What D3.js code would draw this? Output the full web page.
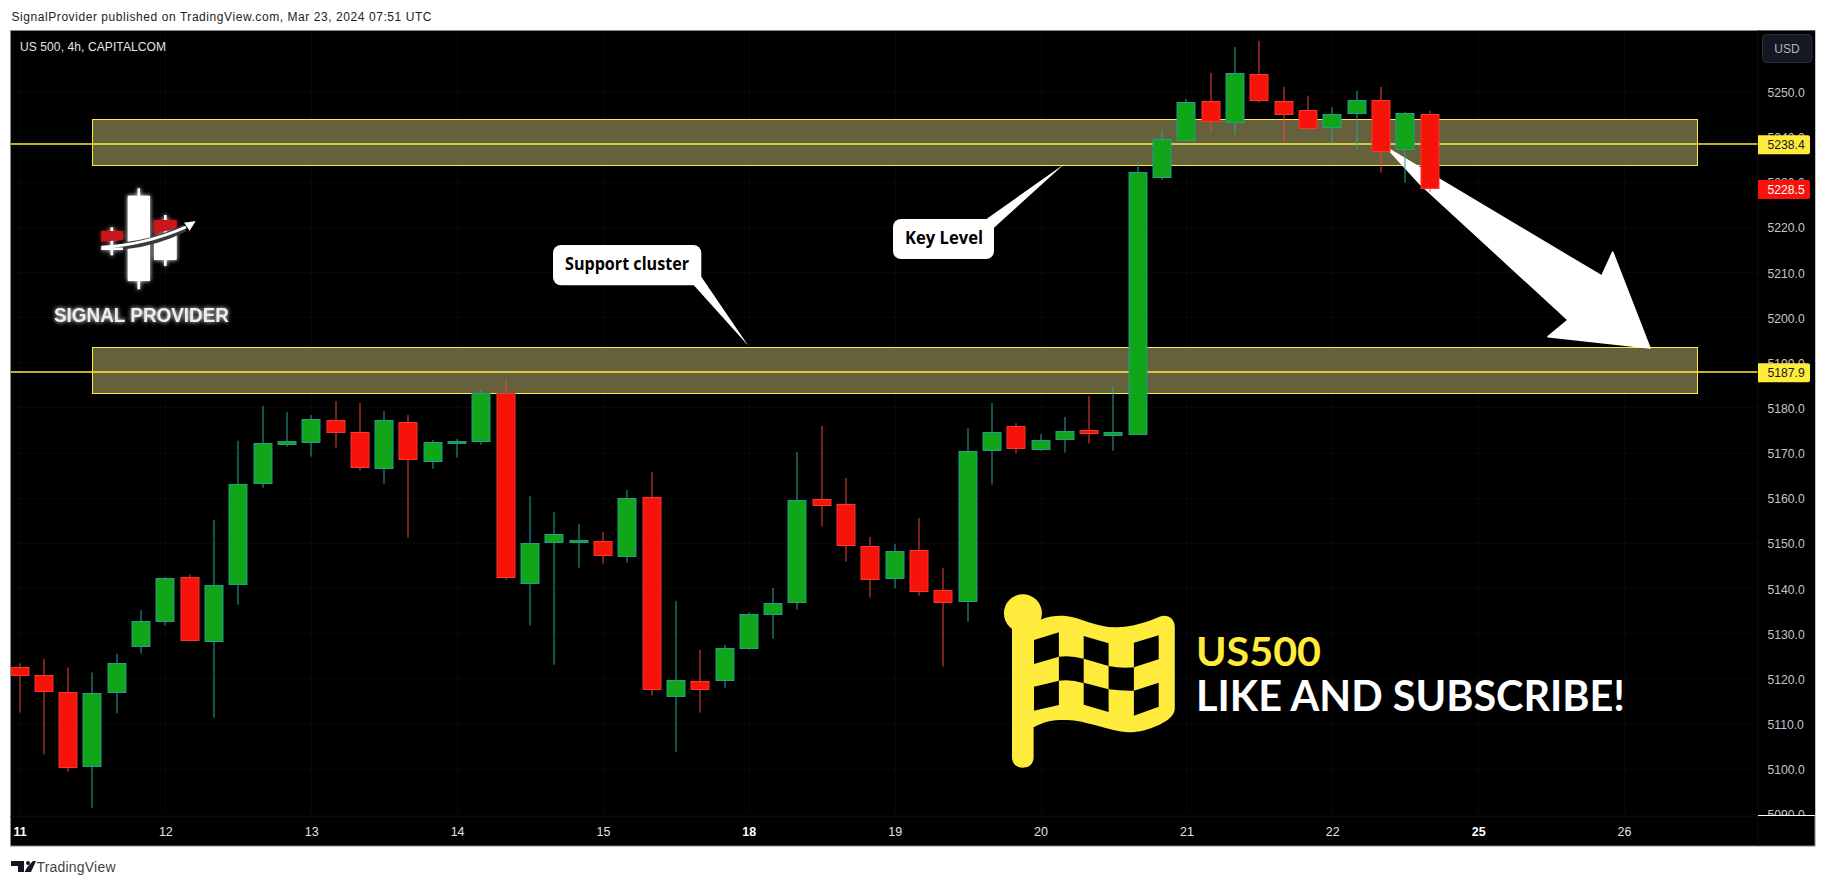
<!DOCTYPE html>
<html>
<head>
<meta charset="utf-8">
<script src="https://cdn.jsdelivr.net/npm/d3@7/dist/d3.min.js"></script>
<style>
html,body{margin:0;padding:0;background:#fff;overflow:hidden}
svg{display:block}
text{font-family:"Liberation Sans",Arial,sans-serif}
</style>
</head>
<body>
<svg id="c" width="1826" height="886"></svg>
<script>
// ---- data ----
const opens  = [5122.4,5120.7,5116.9,5100.5,5116.9,5127.1,5132.6,5142.4,5128.2,5140.8,5163.2,5171.8,5172.4,5177.1,5174.5,5166.5,5176.7,5168.1,5172.0,5172.5,5183.1,5141.0,5150.1,5150.1,5150.3,5147.0,5160.1,5116.0,5119.3,5119.6,5126.6,5134.2,5136.8,5159.6,5158.5,5149.2,5142.2,5148.4,5139.5,5137.1,5170.5,5175.8,5170.7,5172.9,5174.9,5173.8,5174.2,5231.0,5239.2,5247.8,5243.1,5253.8,5247.8,5245.8,5242.0,5245.1,5248.0,5237.2,5244.9];
const highs  = [5123.3,5124.3,5122.4,5121.3,5125.4,5135.1,5142.4,5143.0,5155.1,5172.6,5180.3,5179.0,5178.3,5181.4,5181.0,5179.2,5178.3,5172.8,5173.0,5183.9,5186.3,5160.4,5156.8,5154.2,5152.4,5161.7,5165.7,5137.1,5126.3,5127.4,5134.6,5140.0,5170.1,5175.9,5164.4,5151.3,5149.7,5155.5,5144.4,5175.4,5181.0,5176.5,5174.1,5177.9,5182.5,5184.7,5234.3,5241.2,5248.3,5254.1,5259.8,5261.2,5251.0,5249.0,5246.5,5250.1,5251.0,5245.4,5245.7];
const lows   = [5112.4,5103.1,5099.3,5091.3,5112.2,5125.5,5131.7,5128.4,5111.3,5136.3,5162.2,5171.3,5169.1,5171.1,5166.0,5163.1,5151.1,5166.4,5168.9,5171.7,5141.8,5131.7,5123.0,5144.5,5145.4,5145.6,5116.2,5103.7,5112.4,5117.9,5126.3,5128.8,5135.2,5153.6,5145.8,5137.9,5139.9,5138.3,5122.6,5132.5,5162.9,5169.8,5170.4,5170.0,5172.0,5170.4,5174.2,5230.4,5239.2,5240.8,5240.4,5247.5,5238.9,5241.8,5238.5,5237.1,5232.0,5229.8,5227.7];
const closes = [5120.7,5117.1,5100.3,5116.7,5123.3,5132.6,5142.2,5128.4,5140.6,5163.0,5172.1,5172.5,5177.4,5174.5,5166.7,5177.1,5168.5,5172.3,5172.5,5183.1,5142.4,5149.9,5151.9,5150.6,5147.2,5159.9,5117.6,5119.6,5117.6,5126.6,5134.2,5136.6,5159.4,5158.3,5149.5,5141.9,5148.1,5139.3,5136.8,5170.3,5174.5,5170.9,5172.7,5174.7,5174.3,5174.5,5232.1,5239.4,5247.6,5243.4,5254.0,5248.0,5244.9,5241.8,5244.9,5248.0,5236.7,5245.1,5228.5];

const dayIndex  = [0,6,12,18,24,30,36,42,48,54,60,66];
const dayLabels = ["11","12","13","14","15","18","19","20","21","22","25","26"];
const boldDays  = ["11","18","25"];
const priceTicks = [5090,5100,5110,5120,5130,5140,5150,5160,5170,5180,5190,5200,5210,5220,5230,5240,5250];

const keyLevels = [5238.4,5187.9];
const lastPrice = 5228.5;
const zones = [[5243.8,5233.6],[5193.3,5183.1]];

const UP_BODY="#11a51a", UP_EDGE="#1f9f8c", DN_BODY="#f7130a", DN_EDGE="#f5392c", YEL="#ffeb3b", ZONE="#66613d";

const svg=d3.select("#c");
const x=d3.scaleLinear().domain([0,66]).range([19.5,1624]);
const y=d3.scaleLinear().domain([5238.4,5187.9]).range([143.7,371.7]);
const L=10.5,T=30.5,R=1758,B=815,FR=1815,FB=846;
const zoneX0=92.5, zoneX1=1697.5;

// frame
svg.append("rect").attr("x",L).attr("y",T).attr("width",FR-L).attr("height",FB-T).attr("fill","#000").attr("stroke","#85878c");
const defs=svg.append("defs");
defs.append("clipPath").attr("id","plot").append("rect").attr("x",L+.5).attr("y",T+.5).attr("width",R-L).attr("height",B-T);
defs.append("clipPath").attr("id","px").append("rect").attr("x",R).attr("y",T).attr("width",FR-R).attr("height",B-T);
const f=defs.append("filter").attr("id","glow").attr("x","-30%").attr("y","-50%").attr("width","160%").attr("height","200%");
f.append("feGaussianBlur").attr("in","SourceGraphic").attr("stdDeviation",2.2).attr("result","b");
const m=f.append("feMerge");m.append("feMergeNode").attr("in","b");m.append("feMergeNode").attr("in","SourceGraphic");

const plot=svg.append("g").attr("clip-path","url(#plot)");

// faint grid
plot.append("g").selectAll("line").data(priceTicks).join("line").attr("x1",L).attr("x2",R)
  .attr("y1",d=>Math.round(y(d))+.5).attr("y2",d=>Math.round(y(d))+.5).attr("stroke","#080808");
plot.append("g").selectAll("line").data(dayIndex).join("line").attr("y1",T).attr("y2",B)
  .attr("x1",d=>Math.round(x(d))+.5).attr("x2",d=>Math.round(x(d))+.5).attr("stroke","#080808");

// zones + key levels
plot.append("g").selectAll("rect").data(zones).join("rect")
  .attr("x",zoneX0).attr("width",zoneX1-zoneX0)
  .attr("y",d=>Math.round(y(d[0]))+.5).attr("height",d=>Math.round(y(d[1]))-Math.round(y(d[0])))
  .attr("fill",ZONE).attr("stroke",YEL).attr("stroke-width",1);
plot.append("g").selectAll("line").data(keyLevels).join("line")
  .attr("x1",L).attr("x2",R).attr("y1",d=>y(d)+.4).attr("y2",d=>y(d)+.4).attr("stroke",YEL).attr("stroke-width",1.5);

// big projected arrow
plot.append("path").attr("fill","#fff").attr("stroke","#fff").attr("stroke-width",1.5).attr("stroke-linejoin","round")
  .attr("d","M1387,148 L1601.7,276 L1612.7,252 L1650,348 L1548,336.7 L1568,320 L1420,184 Z");

// callouts
function callout(rx,ry,rw,rh,p,txt,tx,tw){
  const g=svg.append("g");
  g.append("path").attr("fill","#fff").attr("d",`M${p[0][0]},${p[0][1]} L${p[1][0]},${p[1][1]} L${p[2][0]},${p[2][1]} Z`);
  g.append("rect").attr("x",rx).attr("y",ry).attr("width",rw).attr("height",rh).attr("rx",8).attr("fill","#fff");
  g.append("text").attr("x",tx).attr("y",ry+rh/2+5).attr("font-size",17).attr("font-weight",700)
    .attr("fill","#000").style("font-family","'Open Sans',sans-serif").attr("textLength",tw).attr("lengthAdjust","spacingAndGlyphs").text(txt);
}
callout(553,245,148.3,40.3,[[692.7,284],[701.3,276.7],[748.3,345.7]],"Support cluster",565,124);
callout(893,219,101,40,[[985,220],[994,227.7],[1064.3,164]],"Key Level",905,78);

// candles
const idx=d3.range(closes.length);
const cg=plot.append("g");
cg.selectAll("rect.w").data(idx).join("rect").attr("class","w")
  .attr("x",i=>Math.round(x(i))-.5).attr("width",1)
  .attr("y",i=>y(highs[i])).attr("height",i=>y(lows[i])-y(highs[i]))
  .attr("fill",i=>closes[i]>=opens[i]?"#26a69a":"#f44336");
cg.selectAll("rect.b").data(idx).join("rect").attr("class","b")
  .attr("x",i=>Math.round(x(i))-9).attr("width",18)
  .attr("y",i=>Math.round(y(Math.max(opens[i],closes[i])))+.5)
  .attr("height",i=>Math.max(2,Math.round(y(Math.min(opens[i],closes[i])))-Math.round(y(Math.max(opens[i],closes[i])))))
  .attr("fill",i=>closes[i]>=opens[i]?UP_BODY:DN_BODY)
  .attr("stroke",i=>closes[i]>=opens[i]?UP_EDGE:DN_EDGE).attr("stroke-width",1);

// chequered flag
const flag=svg.append("g");
flag.append("circle").attr("cx",1022.9).attr("cy",613.3).attr("r",19).attr("fill",YEL);
flag.append("path").attr("fill",YEL).attr("fill-rule","evenodd").attr("d",
 "M1012,625 L1041.6,619.3 C1050,616 1058,615.5 1066,616 C1082,618 1098,628 1116.6,627.3 C1132,627 1148,622 1160,616.5 C1168,614 1174.8,619 1174.8,627 L1174.8,708 C1174.8,716 1168,720 1160,724.5 C1148,730 1138,732.5 1128,732.3 C1110,731.5 1085,720 1067,720 C1056,719.5 1044,721 1033.6,727.3 L1033.6,757 C1033.6,764 1029,767.7 1022.8,767.7 C1016.6,767.7 1012,764 1012,757 Z");
const cells=[
 "M1034,640L1058.9,632.3V656.7L1034,664Z",
 "M1083.7,636L1108.6,643.3V666L1083.7,658.7Z",
 "M1133.9,642.7L1158.7,635.3V659.3L1133.9,667.3Z",
 "M1058.9,656.7Q1071,655 1083.7,658.7V683.3Q1071,679 1058.9,680.7Z",
 "M1108.6,666Q1121,668.5 1133.9,667.3V690.7Q1121,691 1108.6,689.3Z",
 "M1034,686.7L1058.9,680.7V705L1034,710.7Z",
 "M1083.7,682.7L1108.6,689.3V712L1083.7,704.7Z",
 "M1133.9,690.7L1158.7,682.7V706.7L1133.9,715.7Z"];
flag.selectAll("path.k").data(cells).join("path").attr("class","k").attr("d",d=>d).attr("fill","#000");

// promo text
svg.append("text").attr("x",1196).attr("y",666).attr("font-size",41).attr("font-weight",700).attr("fill",YEL)
  .style("font-family","Lato,sans-serif").attr("textLength",125).attr("lengthAdjust","spacingAndGlyphs").text("US500");
svg.append("text").attr("x",1196).attr("y",710.5).attr("font-size",42).attr("font-weight",700).attr("fill","#fff")
  .style("font-family","Lato,sans-serif").attr("textLength",429).attr("lengthAdjust","spacingAndGlyphs").text("LIKE AND SUBSCRIBE!");

// logo
const logo=svg.append("g");
const glowG=logo.append("g").attr("filter","url(#glow)");
const rr=(x0,y0,w,h,c)=>glowG.append("rect").attr("x",x0).attr("y",y0).attr("width",w).attr("height",h).attr("fill",c);
rr(137.5,188.3,2.6,101,"#fff"); rr(127.7,195.7,22.3,85.3,"#fff");
rr(164,215,2.6,51,"#fff");
glowG.append("path").attr("fill","#fff").attr("d","M154,237.3L176.7,230.7V260H154Z");
glowG.append("path").attr("fill","#c8191f").attr("d","M154,220H176.7V228.3L154,234Z");
rr(110.5,227.3,2.6,28,"#fff");
glowG.append("path").attr("fill","#fff").attr("d","M101.3,247.5H123V250H101.3Z");
glowG.append("path").attr("fill","#c8191f").attr("d","M101.3,231H123V240L101.3,241.7Z");
logo.append("path").attr("fill","none").attr("stroke","#3a3a3a").attr("stroke-width",7).attr("d","M123,246 Q155,243 185,228");
logo.append("path").attr("fill","none").attr("stroke","#fff").attr("stroke-width",3).attr("d","M101.3,247.3 Q145,245 186,227");
logo.append("path").attr("fill","#fff").attr("d","M195.7,221L184,222.7L189.7,230.7Z");
svg.append("text").attr("x",54).attr("y",321.7).attr("font-size",20).attr("font-weight",700).attr("fill","#eee").attr("filter","url(#glow)")
  .attr("textLength",175).attr("lengthAdjust","spacingAndGlyphs").text("SIGNAL PROVIDER");

// price axis
const pa=svg.append("g").attr("clip-path","url(#px)");
pa.append("rect").attr("x",R).attr("y",T).attr("width",FR-R).attr("height",B-T).attr("fill","#000");
const yAxis=d3.axisRight(y).tickValues(priceTicks).tickFormat(d3.format(".1f")).tickSize(0).tickPadding(0);
const yg=pa.append("g").attr("transform",`translate(${R+9.5},1.2)`).call(yAxis);
yg.select(".domain").remove();
yg.selectAll("text").attr("fill","#c4c6cc").attr("font-size",12.2).style("font-family","'Liberation Sans',sans-serif");
svg.append("line").attr("x1",R).attr("x2",R).attr("y1",T).attr("y2",FB).attr("stroke","#0c0c0c");
svg.append("line").attr("x1",R).attr("x2",FR).attr("y1",B+.5).attr("y2",B+.5).attr("stroke","#fff");

// key level + last price tags
function tag(v,bg,fg,oy){
  const c=y(v)+oy;
  svg.append("path").attr("fill",bg).attr("d",`M${R},${c-9.5}H1808a2,2 0 0 1 2,2V${c+7.5}a2,2 0 0 1 -2,2H${R}Z`);
  svg.append("text").attr("x",R+9.5).attr("y",c+4.5).attr("font-size",12.2).attr("fill",fg).text(d3.format(".1f")(v));
}
keyLevels.forEach(v=>tag(v,YEL,"#131722",1));
tag(lastPrice,DN_BODY,"#fff",1.2);

// currency button
svg.append("rect").attr("x",1762.5).attr("y",34.5).attr("width",49.5).attr("height",28).attr("rx",4).attr("fill","#141823").attr("stroke","#2a2e39");
svg.append("text").attr("x",1787).attr("y",53).attr("text-anchor","middle").attr("font-size",12).attr("fill","#b2b5be").text("USD");

// time axis
const xAxis=d3.axisBottom(x).tickValues(dayIndex).tickFormat((d,i)=>dayLabels[i]).tickSize(0).tickPadding(0);
const xg=svg.append("g").attr("transform",`translate(0,827.5)`).call(xAxis);
xg.select(".domain").remove();
xg.selectAll("text").style("font-family","'Liberation Sans',sans-serif").attr("font-size",12.5)
  .attr("fill",(d,i)=>boldDays.includes(dayLabels[i])?"#fff":"#e0e3eb")
  .attr("font-weight",(d,i)=>boldDays.includes(dayLabels[i])?700:400);
svg.append("line").attr("x1",L).attr("x2",R).attr("y1",B+1.5).attr("y2",B+1.5).attr("stroke","#0a0a0a");

// texts
svg.append("text").attr("x",11.5).attr("y",21).attr("font-size",12).attr("fill","#222")
  .attr("textLength",420).attr("lengthAdjust","spacing").text("SignalProvider published on TradingView.com, Mar 23, 2024 07:51 UTC");
svg.append("text").attr("x",20).attr("y",51).attr("font-size",12).attr("fill","#e6e6e6")
  .attr("textLength",146).attr("lengthAdjust","spacing").text("US 500, 4h, CAPITALCOM");

// footer brand
svg.append("path").attr("fill","#131722").attr("d","M11,861H24V872H18V866H11Z M33,861H36L31,872H24.5L28,866Z");
svg.append("circle").attr("cx",28).attr("cy",863).attr("r",2).attr("fill","#131722");
svg.append("text").attr("x",36.5).attr("y",872).attr("font-size",14).attr("fill","#444")
  .attr("textLength",79).attr("lengthAdjust","spacing").text("TradingView");
</script>
</body>
</html>
